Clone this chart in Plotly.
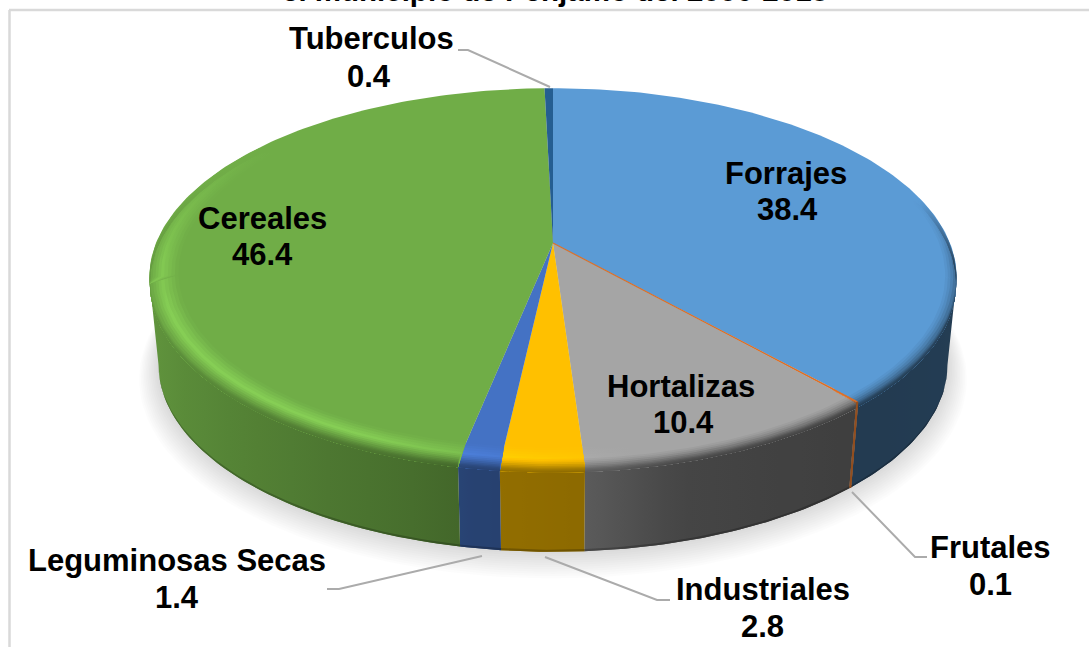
import numpy as np
import plotly.graph_objects as go

# ---- data ----
categories = ["Forrajes", "Frutales", "Hortalizas", "Industriales",
              "Leguminosas Secas", "Cereales", "Tuberculos"]
values = [38.4, 0.1, 10.4, 2.8, 1.4, 46.4, 0.4]
value_labels = ["38.4", "0.1", "10.4", "2.8", "1.4", "46.4", "0.4"]
title_text = "el municipio de Pénjamo del 2006-2018"

# ---- styles / layout ----
colors = ["#5B9BD5", "#ED7D31", "#A5A5A5", "#FFC000", "#4472C4", "#70AD47", "#255E91"]
label_pos = {  # centre of name line, centre of value line (pixels)
    "Forrajes": (786, 173, 787, 209),
    "Frutales": (990, 547, 990, 584),
    "Hortalizas": (681, 386, 683, 422),
    "Industriales": (763, 589, 762, 626),
    "Leguminosas Secas": (177, 560, 177, 597),
    "Cereales": (262, 218, 262, 254),
    "Tuberculos": (371, 38, 369, 76),
}
leaders = [
    ([458, 468, 550], [50, 50, 87]),
    ([327, 339, 482], [589, 589, 556]),
    ([670, 657, 545], [600, 600, 557]),
    ([852, 915, 927], [492, 557, 557]),
]
X0, Y0, A, B, K = 553.0, 243.0, 397.0, 183.0, 0.182
DEPTH, SHRINK_X, SHRINK_Y = 88.0, 0.023, 0.013
FS = 31
THETA_R, THETA_L = 100.5, 259.5  # silhouette tangents


def hex2rgb(h):
    return np.array([int(h[i:i + 2], 16) for i in (1, 3, 5)], dtype=float)


def css(c):
    c = np.clip(c, 0, 255)
    return "rgb(%d,%d,%d)" % tuple(int(round(v)) for v in c)


def proj(r, th, z):
    th = np.radians(th)
    u, v = r * np.sin(th), r * np.cos(th)
    w = 1 + K * v
    return (X0 + A * (1 - SHRINK_X * z) * u / w,
            Y0 + DEPTH * z - B * (1 - SHRINK_Y * z) * v / w)


def shade(th):
    return np.interp(th, [90, 138, 155, 165, 176, 190, 193, 213, 235, 255, 275],
                     [.40, .38, .40, .42, .55, .58, .62, .71, .80, .87, .90])


def highlight(th):
    return np.interp(th, [170, 185, 205, 250, 285, 305], [0, .35, 1, 1, .35, 0])


def fade(th):
    return np.interp(th, [75, 95, 265, 295], [0, 1, 1, 0])


fig = go.Figure()


def poly(xs, ys, fill):
    fig.add_trace(go.Scatter(
        x=list(xs), y=list(ys), mode="lines", fill="toself", fillcolor=fill,
        line=dict(width=0), hoverinfo="skip", showlegend=False))


def stroke(xs, ys, colour, width):
    fig.add_trace(go.Scatter(x=list(xs), y=list(ys), mode="lines", hoverinfo="skip",
                             showlegend=False, line=dict(color=colour, width=width)))


def grad_poly(r1, z1, r2, z2, a, b, colour_fn):
    """Band between two rim curves over angles a..b; colour follows x across the band."""
    th = np.linspace(a, b, max(2, int((b - a) / 1.0) + 2))
    x1, y1 = proj(r1, th, z1)
    x2, y2 = proj(r2, th[::-1], z2)
    xs, ys = np.r_[x1, x2, x1[0]], np.r_[y1, y2, y1[0]]
    mid = (a + b) / 2
    if xs.max() - xs.min() < 3 or abs(x1[-1] - x1[0]) < 2:
        poly(xs, ys, css(colour_fn(mid)))
        return
    samp = np.linspace(a, b, 13)
    sx, _ = proj(r1, samp, z1)
    order = np.argsort(sx)
    sx, samp = sx[order], samp[order]
    stops = [[0.0, css(colour_fn(samp[0]))]]
    for xv, t in zip(sx, samp):
        f = (xv - sx[0]) / (sx[-1] - sx[0])
        if 0 < f < 1 and f > stops[-1][0]:
            stops.append([float(f), css(colour_fn(t))])
    stops.append([1.0, css(colour_fn(samp[-1]))])
    fig.add_trace(go.Scatter(
        x=list(xs), y=list(ys), mode="lines", fill="toself", line=dict(width=0),
        fillgradient=dict(type="horizontal", colorscale=stops,
                          start=float(sx[0]), stop=float(sx[-1])),
        hoverinfo="skip", showlegend=False))


# shadow
tt = np.linspace(0, 360, 181)
for i in range(12, 0, -1):
    u, v = np.sin(np.radians(tt)), np.cos(np.radians(tt))
    w = 1 + K * v
    xs = X0 + (A * (1 - SHRINK_X) + 1.6 * i) * u / w
    ys = Y0 + DEPTH + 1.0 * i - (B * (1 - SHRINK_Y) + 1.0 * i) * v / w
    poly(xs, ys, "rgba(0,0,0,0.013)")

edges = np.concatenate([[0], np.cumsum(values)]) / np.sum(values) * 360.0


def pieces(a, b, lo, hi):
    a, b = max(a, lo), min(b, hi)
    if b <= a:
        return []
    cuts = [a] + [c for c in (THETA_R, THETA_L) if a < c < b] + [b]
    return list(zip(cuts[:-1], cuts[1:]))


# side wall: only the part facing the viewer, so the silhouette stays clean
for i, col in enumerate(colors):
    base = hex2rgb(col)
    for a, b in pieces(edges[i], edges[i + 1], THETA_R, THETA_L):
        grad_poly(1, 0.0, 1, 1.0, a, b, lambda t, base=base: base * shade(t))
        grad_poly(1, 0.975, 1, 1.0, a, b, lambda t, base=base: base * shade(t) * .78)

# top wedges
for i, col in enumerate(colors):
    th = np.linspace(edges[i], edges[i + 1], max(2, int(edges[i + 1] - edges[i]) + 2))
    xs, ys = proj(1.0, th, 0)
    poly(np.r_[X0, xs, X0], np.r_[Y0, ys, Y0], col)

# bevel: profile along the rim (r, z, mix to wall colour, highlight weight)
S_KNOTS = [0, 1, 2, 3, 4, 5, 6]
R_KNOTS = [.93, .95, .97, .985, 1, 1, 1]
Z_KNOTS = [0, 0, 0, 0, 0, .035, .07]
MIX_KNOTS = [0, 0, 0, .2, .55, .85, 1]
HL_KNOTS = [0, .5, 1, .6, .3, 0, 0]
levels = np.linspace(0, 6, 15)
for i, col in enumerate(colors):
    base = hex2rgb(col)
    for a, b in pieces(edges[i], edges[i + 1], 75, 305):
        for lv, lv2 in zip(levels[:-1], levels[1:]):
            mid = (lv + lv2) / 2
            mix = np.interp(mid, S_KNOTS, MIX_KNOTS)
            hl = np.interp(mid, S_KNOTS, HL_KNOTS)

            def colour(t, base=base, mix=mix, hl=hl):
                m = mix * fade(t)
                side = base * shade(np.clip(t, 90, 280))
                return base * (1 + .2 * hl * highlight(t)) * (1 - m) + side * m

            grad_poly(np.interp(lv, S_KNOTS, R_KNOTS), np.interp(lv, S_KNOTS, Z_KNOTS),
                      1, .07, a, b, colour)

# the thinnest slice stays visible as a stroke along its own angle
j = categories.index("Frutales")
mid_th = (edges[j] + edges[j + 1]) / 2
fx, fy = proj(np.array([0, .5, 1.0]), mid_th, 0)
stroke(fx, fy, "#d9702a", 1.2)
zs = np.array([0, .07, 1.0])
gx, gy = proj(1.0, mid_th, zs)
stroke(gx, gy, css(hex2rgb(colors[j]) * .62), 2)

# leader lines
for lx, ly in leaders:
    stroke(lx, ly, "#ababab", 2)

font = dict(family="Liberation Sans, Arial, sans-serif", size=FS, color="#000000")
ann = []
for name, val in zip(categories, value_labels):
    nx, ny, vx, vy = label_pos[name]
    ann.append(dict(x=nx, y=ny, text="<b>%s</b>" % name, showarrow=False, font=font))
    ann.append(dict(x=vx, y=vy, text="<b>%s</b>" % val, showarrow=False, font=font))
ann.append(dict(x=555, y=9, yanchor="bottom", text="<b>%s</b>" % title_text, showarrow=False,
                font=dict(family=font["family"], size=29.5, color="#000000")))

frame = dict(type="line", xref="x", yref="y", line=dict(color="#d9d9d9", width=2.5))
fig.update_layout(
    width=1089, height=647, margin=dict(l=0, r=0, t=0, b=0),
    paper_bgcolor="white", plot_bgcolor="white", showlegend=False,
    xaxis=dict(range=[0, 1089], visible=False, fixedrange=True),
    yaxis=dict(range=[647, 0], visible=False, fixedrange=True),
    annotations=ann,
    shapes=[dict(frame, x0=9, x1=1089, y0=10, y1=10), dict(frame, x0=9.5, x1=9.5, y0=10, y1=647)],
)
fig.write_html("out.html", config={"displayModeBar": False},
               post_script="document.body.style.margin='0';document.body.style.overflow='hidden';")
